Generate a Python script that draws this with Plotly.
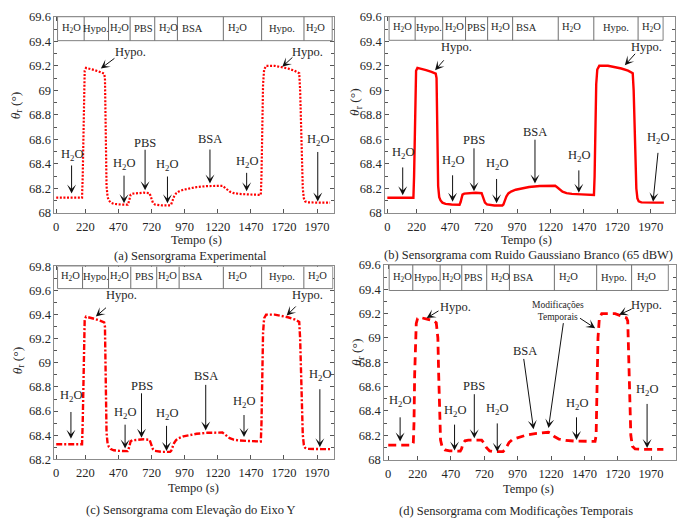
import plotly.graph_objects as go

W, H = 686, 526
SERIF = "Liberation Serif"
TEXT = "#262626"
FRAME = "#8c8c8c"
RED = "#ff0000"

# ---- sensorgram data (time in s, resonance angle in degrees) ----
TIME_S = [0, 195, 200, 205, 210, 215, 225, 240, 290, 330, 362, 368, 374, 380,
          388, 398, 412, 435, 480, 540, 548, 555, 562, 575, 600, 660, 705, 712,
          720, 730, 745, 770, 800, 860, 868, 878, 890, 905, 925, 960, 1010,
          1060, 1140, 1200, 1255, 1270, 1290, 1310, 1340, 1380, 1450, 1545,
          1550, 1556, 1562, 1570, 1585, 1650, 1700, 1750, 1800, 1835, 1842,
          1848, 1855, 1862, 1870, 1880, 1900, 1940, 2000, 2068]
THETA_DEG = [68.125, 68.125, 68.3, 68.75, 69.1, 69.16, 69.183, 69.18, 69.165,
             69.15, 69.136, 69.1, 68.5, 68.22, 68.13, 68.103, 68.085, 68.075,
             68.07, 68.068, 68.09, 68.13, 68.15, 68.158, 68.162, 68.166,
             68.162, 68.14, 68.11, 68.085, 68.07, 68.064, 68.062, 68.062,
             68.07, 68.1, 68.135, 68.16, 68.175, 68.19, 68.202, 68.212, 68.22,
             68.224, 68.222, 68.21, 68.19, 68.175, 68.163, 68.156, 68.152,
             68.148, 68.3, 68.7, 69.05, 69.17, 69.2, 69.2, 69.19, 69.178,
             69.16, 69.14, 69.0, 68.7, 68.4, 68.2, 68.12, 68.095, 68.087,
             68.085, 68.085, 68.085]
ELEVATION_C = 0.2  # vertical offset applied in panel (c)

TIME_D = [0, 180, 188, 193, 198, 203, 210, 220, 240, 290, 340, 360, 372, 378,
          384, 392, 405, 425, 460, 540, 550, 560, 575, 600, 700, 715, 735, 760,
          790, 860, 880, 905, 930, 970, 1030, 1100, 1160, 1200, 1220, 1245,
          1280, 1330, 1400, 1550, 1558, 1565, 1572, 1582, 1600, 1700, 1750,
          1785, 1795, 1802, 1810, 1818, 1830, 1850, 1900, 2062]
THETA_D = [68.12, 68.12, 68.14, 68.3, 68.7, 69.0, 69.12, 69.16, 69.168, 69.155,
           69.14, 69.125, 69.0, 68.7, 68.35, 68.16, 68.1, 68.08, 68.072, 68.07,
           68.09, 68.13, 68.155, 68.16, 68.16, 68.14, 68.1, 68.072, 68.065,
           68.065, 68.09, 68.14, 68.165, 68.18, 68.2, 68.214, 68.222, 68.225,
           68.215, 68.19, 68.168, 68.158, 68.152, 68.15, 68.2, 68.6, 69.0,
           69.16, 69.2, 69.2, 69.18, 69.165, 69.14, 68.9, 68.5, 68.2, 68.11,
           68.088, 68.085, 68.085]

X_TICKS = [0, 220, 470, 720, 970, 1220, 1470, 1720, 1970]
Y_TICKS = [68.0, 68.2, 68.4, 68.6, 68.8, 69.0, 69.2, 69.4, 69.6]
Y_TICKS_C = [68.2, 68.4, 68.6, 68.8, 69.0, 69.2, 69.4, 69.6, 69.8]

H2O = "H<sub>2</sub>O"
PHASES = [H2O, "Hypo.", H2O, "PBS", H2O, "BSA", H2O, "Hypo.", H2O]

theta_c = [v + ELEVATION_C for v in THETA_DEG]

# ---- panel layout: frame in pixels, axis ranges, phase bar, annotations ----
panels = [
    dict(frame=(53.5, 333, 10, 211.7), xr=(-13.6, 2094), yr=(68, 69.6),
         yticks=Y_TICKS, x=TIME_S, y=THETA_DEG,
         line=dict(color=RED, width=2.2, dash="2px,1.6px"),
         bar=[10, 211, 395, 558, 744, 915, 1262, 1551, 1871, 2084],
         bar_y=(69.405, 69.6), bar_lab=[116, 303, 480, 659, 845, 1028, 1368, 1707, 1958],
         notes=[(H2O, 116, 68.475, 116, 68.40, 116, 68.16),
                ("Hypo.", 563, 69.31, 451, 69.27, 337, 69.178),
                (H2O, 513, 68.396, 512, 68.317, 512, 68.08),
                ("PBS", 671, 68.573, 671, 68.528, 671, 68.185),
                (H2O, 840, 68.39, 840, 68.31, 840, 68.08),
                ("BSA", 1161, 68.6, 1161, 68.53, 1161, 68.24),
                (H2O, 1438, 68.415, 1438, 68.34, 1438, 68.178),
                ("Hypo.", 1896, 69.31, 1795, 69.28, 1707, 69.192),
                (H2O, 1976, 68.594, 1975, 68.51, 1975, 68.095)],
         title="(a) Sensorgrama Experimental", title_px=(190, 256),
         xlab_px=(196, 239), ylab_px=(15, 101)),
    dict(frame=(384.7, 674.7, 10, 211.7), xr=(-16.4, 2149), yr=(68, 69.6),
         yticks=Y_TICKS, x=TIME_S, y=THETA_DEG,
         line=dict(color=RED, width=2.4),
         bar=[13, 208, 414, 585, 750, 937, 1278, 1544, 1875, 2062],
         bar_y=(69.408, 69.6), bar_lab=[115, 314, 506, 668, 847, 1037, 1377, 1709, 1975],
         notes=[(H2O, 115, 68.49, 115, 68.384, 115, 68.146),
                ("Hypo.", 518, 69.35, 432, 69.257, 357, 69.164),
                (H2O, 488, 68.424, 488, 68.32, 488, 68.093),
                ("PBS", 648, 68.595, 648, 68.54, 648, 68.178),
                (H2O, 817, 68.397, 817, 68.29, 817, 68.08),
                ("BSA", 1104, 68.662, 1104, 68.61, 1104, 68.24),
                (H2O, 1432, 68.463, 1432, 68.36, 1432, 68.165),
                ("Hypo.", 1937, 69.357, 1863, 69.31, 1776, 69.204),
                (H2O, 2025, 68.609, 2025, 68.503, 1987, 68.093)],
         title="(b) Sensorgrama com Ruido Gaussiano Branco (65 dBW)", title_px=(528, 255),
         xlab_px=(526, 239), ylab_px=(355, 97)),
    dict(frame=(53.5, 333, 266.5, 464.7), xr=(-13.6, 2094), yr=(68.2, 69.8),
         yticks=Y_TICKS_C, x=TIME_S, y=theta_c,
         line=dict(color=RED, width=2.4, dash="6px,2px,2px,2px"),
         bar=[10, 199, 395, 563, 759, 928, 1262, 1551, 1870, 2089],
         bar_y=(69.616, 69.8), bar_lab=[111, 300, 480, 664, 840, 1028, 1368, 1707, 1976],
         notes=[(H2O, 111, 68.726, 111, 68.605, 111, 68.37),
                ("Hypo.", 493, 69.562, 387, 69.468, 299, 69.384),
                (H2O, 520, 68.586, 520, 68.5, 520, 68.29),
                ("PBS", 644, 68.812, 644, 68.76, 644, 68.38),
                (H2O, 833, 68.578, 833, 68.49, 833, 68.27),
                ("BSA", 1129, 68.888, 1129, 68.83, 1129, 68.44),
                (H2O, 1418, 68.672, 1418, 68.58, 1418, 68.385),
                ("Hypo.", 1896, 69.562, 1820, 69.48, 1740, 69.392),
                (H2O, 1991, 68.9, 1991, 68.794, 1991, 68.3)],
         title="(c) Sensorgrama com Elevação do Eixo Y", title_px=(190, 517),
         xlab_px=(193, 494), ylab_px=(17, 363)),
    dict(frame=(383.7, 675.5, 265, 465), xr=(-30.7, 2153), yr=(68, 69.6),
         yticks=Y_TICKS, x=TIME_D, y=THETA_D,
         line=dict(color=RED, width=2.8, dash="8px,5px"),
         bar=[7, 184, 389, 551, 738, 908, 1245, 1562, 1824, 2099],
         bar_y=(69.39, 69.6), bar_lab=[109, 290, 476, 638, 838, 1012, 1349, 1691, 1935],
         notes=[(H2O, 89, 68.483, 89, 68.36, 89, 68.15),
                ("Hypo.", 501, 69.256, 388, 69.23, 288, 69.163),
                (H2O, 497, 68.40, 497, 68.3, 497, 68.075),
                ("PBS", 645, 68.602, 645, 68.55, 645, 68.176),
                (H2O, 817, 68.416, 817, 68.31, 817, 68.065),
                ("BSA", 1025, 68.896, 1014, 68.84, 1089, 68.25),
                (H2O, 1411, 68.456, 1411, 68.36, 1411, 68.162),
                ("Hypo.", 1935, 69.27, 1835, 69.243, 1730, 69.19),
                (H2O, 1940, 68.576, 1940, 68.47, 1940, 68.096),
                ("", None, None, 1314, 69.134, 1201, 68.26),
                ("", None, None, 1426, 69.17, 1551, 69.08)],
         extra=("Modificações<br>Temporais", 1274, 69.224),
         title="(d) Sensorgrama com Modificações Temporais", title_px=(516, 518),
         xlab_px=(528, 495), ylab_px=(357, 354)),
]


def text_note(**kw):
    base = dict(showarrow=False, xanchor="center", yanchor="middle")
    base.update(kw)
    return base


fig = go.Figure()
layout = dict(width=W, height=H, margin=dict(l=0, r=0, t=0, b=0),
              paper_bgcolor="white", plot_bgcolor="white", showlegend=False,
              font=dict(family=SERIF, color=TEXT, size=12))
shapes, annotations = [], []

for i, p in enumerate(panels, start=1):
    sx = "" if i == 1 else str(i)
    xref, yref = "x" + sx, "y" + sx
    l, r, t, b = p["frame"]
    tick_font = dict(family=SERIF, size=12.5, color=TEXT)
    layout["xaxis" + sx] = dict(
        domain=[l / W, r / W], range=list(p["xr"]), anchor=yref,
        tickmode="array", tickvals=X_TICKS, ticktext=[str(v) for v in X_TICKS],
        ticks="inside", ticklen=4, tickcolor="#555", showline=True,
        linecolor=FRAME, linewidth=1, mirror="ticks", showgrid=False,
        zeroline=False, tickfont=tick_font, ticklabelstandoff=2)
    layout["yaxis" + sx] = dict(
        domain=[1 - b / H, 1 - t / H], range=list(p["yr"]), anchor=xref,
        tickmode="array", tickvals=p["yticks"],
        ticktext=[f"{v:g}" for v in p["yticks"]],
        ticks="inside", ticklen=4, tickcolor="#555", showline=True,
        linecolor=FRAME, linewidth=1, mirror="ticks", showgrid=False,
        zeroline=False, tickfont=tick_font,
        minor=dict(tickmode="linear", tick0=p["yr"][0], dtick=0.1,
                   ticks="inside", ticklen=2.5, tickcolor="#555", showgrid=False))

    fig.add_trace(go.Scatter(x=p["x"], y=p["y"], mode="lines", line=p["line"],
                             xaxis=xref, yaxis=yref, hoverinfo="skip"))

    # phase bar along the top of the frame
    y0, y1 = p["bar_y"]
    edges = p["bar"]
    shapes.append(dict(type="rect", xref=xref, yref=yref, x0=edges[0], x1=edges[-1],
                       y0=y0, y1=y1, line=dict(color="#808080", width=1),
                       fillcolor="white", layer="above"))
    for e in edges[1:-1]:
        shapes.append(dict(type="line", xref=xref, yref=yref, x0=e, x1=e, y0=y0, y1=y1,
                           line=dict(color="#6e6e6e", width=1), layer="above"))
    for name, lx in zip(PHASES, p["bar_lab"]):
        annotations.append(text_note(xref=xref, yref=yref, x=lx, y=(y0 + y1) / 2 + 0.005,
                                     text=name,
                                     font=dict(family=SERIF, size=10.5, color=TEXT)))

    # labelled arrows
    for text, tx, ty, ax, ay, hx, hy in p["notes"]:
        if text:
            annotations.append(text_note(xref=xref, yref=yref, x=tx, y=ty, text=text,
                                         font=dict(family=SERIF, size=12.5, color=TEXT)))
        annotations.append(dict(xref=xref, yref=yref, x=hx, y=hy, ax=ax, ay=ay,
                                axref=xref, ayref=yref, text="", showarrow=True,
                                arrowhead=3, arrowsize=1.5, arrowwidth=1,
                                arrowcolor="#111", standoff=0))
    if "extra" in p:
        et, ex, ey = p["extra"]
        annotations.append(text_note(xref=xref, yref=yref, x=ex, y=ey, text=et,
                                     font=dict(family=SERIF, size=9.5, color=TEXT)))

    # titles
    tx_, ty_ = p["title_px"]
    annotations.append(text_note(xref="paper", yref="paper", x=tx_ / W, y=1 - ty_ / H,
                                 text=p["title"],
                                 font=dict(family=SERIF, size=12.5, color=TEXT)))
    lx_, ly_ = p["xlab_px"]
    annotations.append(text_note(xref="paper", yref="paper", x=lx_ / W, y=1 - ly_ / H,
                                 text="Tempo (s)",
                                 font=dict(family=SERIF, size=12.5, color=TEXT)))
    vx_, vy_ = p["ylab_px"]
    annotations.append(text_note(xref="paper", yref="paper", x=vx_ / W, y=1 - vy_ / H,
                                 text="<i>θ</i><sub>r</sub> (°)", textangle=-90,
                                 font=dict(family=SERIF, size=13.5, color=TEXT)))

layout["shapes"] = shapes
layout["annotations"] = annotations
fig.update_layout(**layout)
fig.write_html("out.html")
